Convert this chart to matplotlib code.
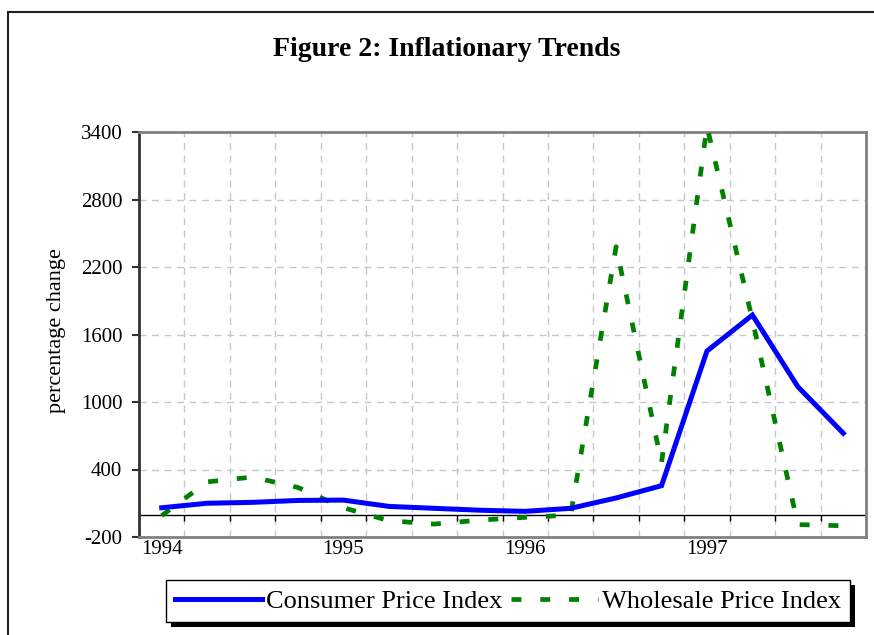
import numpy as np
import matplotlib
matplotlib.use("Agg")
import matplotlib.pyplot as plt
from matplotlib.lines import Line2D
from matplotlib.patches import Rectangle

plt.rcParams['font.family'] = ['Liberation Serif', 'DejaVu Serif']
plt.rcParams['axes.unicode_minus'] = False

# quarterly data, 1994 Q1 .. 1997 Q4
quarters = np.arange(16)
year_labels = ["1994", "1995", "1996", "1997"]
cpi = [60, 100, 108, 125, 128, 72, 55, 38, 28, 55, 147, 256, 1453, 1773, 1136, 722]
wpi = [-10, 290, 333, 240, 60, -55, -85, -50, -25, -5, 2380, 460, 3450, 1730, -90, -100]

fig = plt.figure(figsize=(8.74, 6.35), dpi=100)
ax = fig.add_axes([139/874, 1 - 537/635, (866-139)/874, (537-132)/635])

ax.plot(quarters, cpi, color="#0000ff", lw=3.6, label="Consumer Price Index",
        solid_joinstyle="miter", zorder=4)
ax.plot(quarters, wpi, color="#008000", lw=3.4, ls=(0, (2.1, 4.0)),
        label="Wholesale Price Index", zorder=3)

ax.set_xlim(-0.5, 15.5)
ax.set_ylim(-200, 3400)
ax.set_yticks(np.arange(-200, 3401, 600))

# gridlines
for yv in np.arange(400, 3400, 600):
    ax.axhline(yv, color="#c8c8c8", lw=1, ls=(0, (5, 4)), zorder=1)
for xv in np.arange(0.5, 15, 1):
    ax.axvline(xv, color="#c8c8c8", lw=1, ls=(0, (5, 4)), zorder=1)

# zero line with category ticks
ax.axhline(0, color="black", lw=1, zorder=2)
ax.vlines(np.arange(-0.5, 15.6, 1), -60, 0, color="black", lw=1, zorder=2)

ax.set_xticks(quarters[::4])
ax.set_xticklabels(year_labels)
ax.tick_params(axis="x", length=0, pad=2, labelsize=15)
ax.tick_params(axis="y", length=5, width=1.5, pad=7, labelsize=15, color="#333333")

for s in ["top", "right", "bottom"]:
    ax.spines[s].set_color("#808080")
    ax.spines[s].set_linewidth(2)
ax.spines["left"].set_color("#333333")
ax.spines["left"].set_linewidth(2)

fig.text(57/874, 1 - 413/635, "percentage change", rotation=90,
         ha="center", va="bottom", fontsize=16)

fig.text(447/874, 1 - 49/635, "Figure 2: Inflationary Trends", ha="center",
         va="center", fontsize=20, fontweight="bold")

# outer frame
fig.add_artist(Line2D([8/874, 8/874], [-0.05, 1 - 12/635], transform=fig.transFigure,
                      color="#222222", lw=1.5))
fig.add_artist(Line2D([8/874, 1.05], [1 - 12/635, 1 - 12/635], transform=fig.transFigure,
                      color="#222222", lw=1.5))

leg = fig.legend(loc="center", bbox_to_anchor=(508/874, 1 - 601/635), ncol=2,
                 fontsize=19, frameon=True, fancybox=False, edgecolor="black",
                 framealpha=1, handlelength=3.3, handletextpad=0.15,
                 columnspacing=0.3, borderpad=0.35, borderaxespad=0)
leg.get_frame().set_linewidth(1)
leg.set_zorder(5)

# black drop shadow behind the legend box
fig.canvas.draw()
bb = leg.get_window_extent()
fig.add_artist(Rectangle((bb.x0 + 5, bb.y0 - 5), bb.width, bb.height,
                         transform=None, facecolor="black", edgecolor="none", zorder=4))

fig.savefig("out.png", dpi=100)
